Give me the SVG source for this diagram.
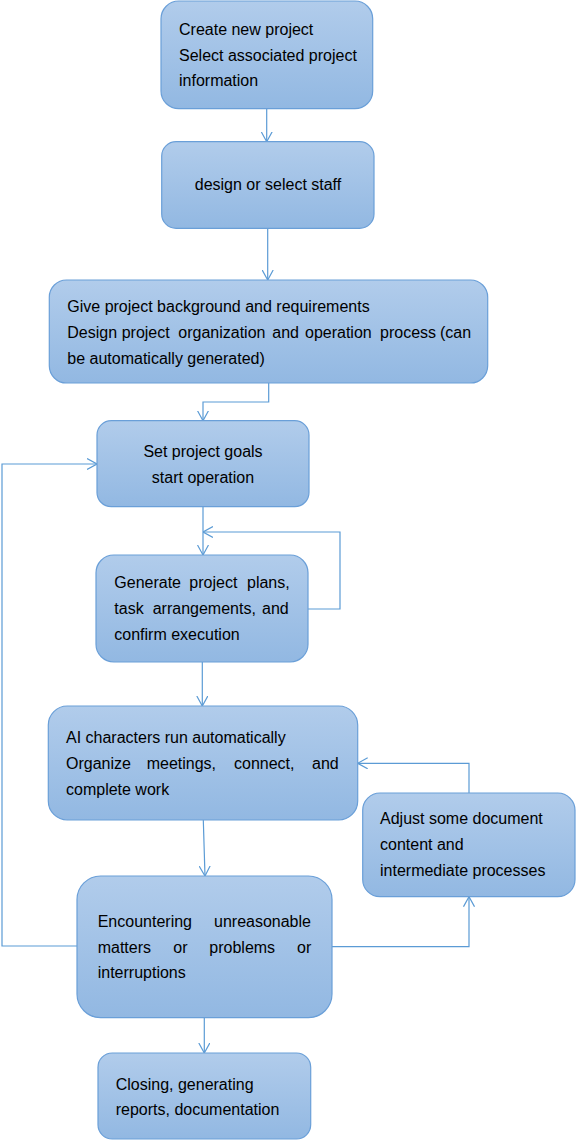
<svg xmlns="http://www.w3.org/2000/svg" width="576" height="1141" viewBox="0 0 576 1141">
<style>
.box{stroke:#6a9fd8;stroke-width:1.2;fill:url(#g)}
.t{font-family:"Liberation Sans",Arial,sans-serif;font-size:16px;fill:#000}
.c{text-anchor:middle}
.ln{fill:none;stroke:#5b9bd5;stroke-width:1.2}
</style>
<defs>
<linearGradient id="g" x1="0" y1="0" x2="0" y2="1">
<stop offset="0" stop-color="#b1cceb"/>
<stop offset="1" stop-color="#92b8e2"/>
</linearGradient>
<marker id="a" viewBox="0 0 10 12" refX="10" refY="6" markerWidth="10" markerHeight="12" markerUnits="userSpaceOnUse" orient="auto">
<path d="M0,0.5 L10,6 L0,11.5" fill="none" stroke="#5b9bd5" stroke-width="1.2"/>
</marker>
</defs>
<rect width="576" height="1141" fill="#fff"/>
<g id="connectors">
<path class="ln" marker-end="url(#a)" d="M266.7,108.7 V141.7"/>
<path class="ln" marker-end="url(#a)" d="M267.7,228.3 V280"/>
<path class="ln" marker-end="url(#a)" d="M268.7,383 V402 H203 V420.7"/>
<path class="ln" marker-end="url(#a)" d="M203,506.7 V555"/>
<path class="ln" marker-end="url(#a)" d="M308,609 H340 V532 H203"/>
<path class="ln" marker-end="url(#a)" d="M202.3,662 V706"/>
<path class="ln" marker-end="url(#a)" d="M203.3,820 L205,876"/>
<path class="ln" marker-end="url(#a)" d="M204.3,1017.7 V1053"/>
<path class="ln" marker-end="url(#a)" d="M77,946 H2 V464 H97"/>
<path class="ln" marker-end="url(#a)" d="M332,946.7 H469 V896.7"/>
<path class="ln" marker-end="url(#a)" d="M469,793 V763.3 H357.7"/>
</g>
<g id="n1">
<rect class="box" x="161" y="1" width="211.7" height="107.7" rx="17.8"/>
<text class="t" x="179" y="35">Create new project</text>
<text class="t" x="179" y="60.5">Select associated project</text>
<text class="t" x="179" y="86">information</text>
</g>
<g id="n2">
<rect class="box" x="161.7" y="141.7" width="212.3" height="86.6" rx="14.4"/>
<text class="t c" x="268" y="190">design or select staff</text>
</g>
<g id="n3">
<rect class="box" x="49.3" y="280" width="438.4" height="103" rx="17.2"/>
<text class="t" x="67.3" y="312">Give project background and requirements</text>
<text class="t" y="338"><tspan x="67.3">Design</tspan><tspan x="121.7">project</tspan><tspan x="178.3">organization</tspan><tspan x="272.3">and</tspan><tspan x="305">operation</tspan><tspan x="380">process</tspan><tspan x="440">(can</tspan></text>
<text class="t" x="67.3" y="364">be automatically generated)</text>
</g>
<g id="n4">
<rect class="box" x="97" y="420.7" width="212" height="86" rx="14.3"/>
<text class="t c" x="203" y="457">Set project goals</text>
<text class="t c" x="203" y="483">start operation</text>
</g>
<g id="n5">
<rect class="box" x="96" y="555" width="212" height="107" rx="17.8"/>
<text class="t" y="588"><tspan x="114.3">Generate</tspan><tspan x="189.3">project</tspan><tspan x="247">plans,</tspan></text>
<text class="t" y="614"><tspan x="114.3">task</tspan><tspan x="152.7">arrangements,</tspan><tspan x="262">and</tspan></text>
<text class="t" x="114.3" y="640">confirm execution</text>
</g>
<g id="n6">
<rect class="box" x="48.3" y="706" width="309.4" height="114" rx="19"/>
<text class="t" x="66" y="743">AI characters run automatically</text>
<text class="t" y="769"><tspan x="66">Organize</tspan><tspan x="146.7">meetings,</tspan><tspan x="234">connect,</tspan><tspan x="312">and</tspan></text>
<text class="t" x="66" y="795">complete work</text>
</g>
<g id="n7">
<rect class="box" x="362.7" y="793" width="212.3" height="103.7" rx="17.3"/>
<text class="t" x="380" y="824">Adjust some document</text>
<text class="t" x="380" y="850">content and</text>
<text class="t" x="380" y="876">intermediate processes</text>
</g>
<g id="n8">
<rect class="box" x="77" y="876" width="255" height="141.7" rx="23.6"/>
<text class="t" y="927"><tspan x="97.7">Encountering</tspan><tspan x="214">unreasonable</tspan></text>
<text class="t" y="953"><tspan x="97.7">matters</tspan><tspan x="173.3">or</tspan><tspan x="209.3">problems</tspan><tspan x="297">or</tspan></text>
<text class="t" x="97.7" y="978">interruptions</text>
</g>
<g id="n9">
<rect class="box" x="98" y="1053" width="212.7" height="86" rx="14.3"/>
<text class="t" x="115.7" y="1090">Closing, generating</text>
<text class="t" x="115.7" y="1115">reports, documentation</text>
</g>
</svg>
